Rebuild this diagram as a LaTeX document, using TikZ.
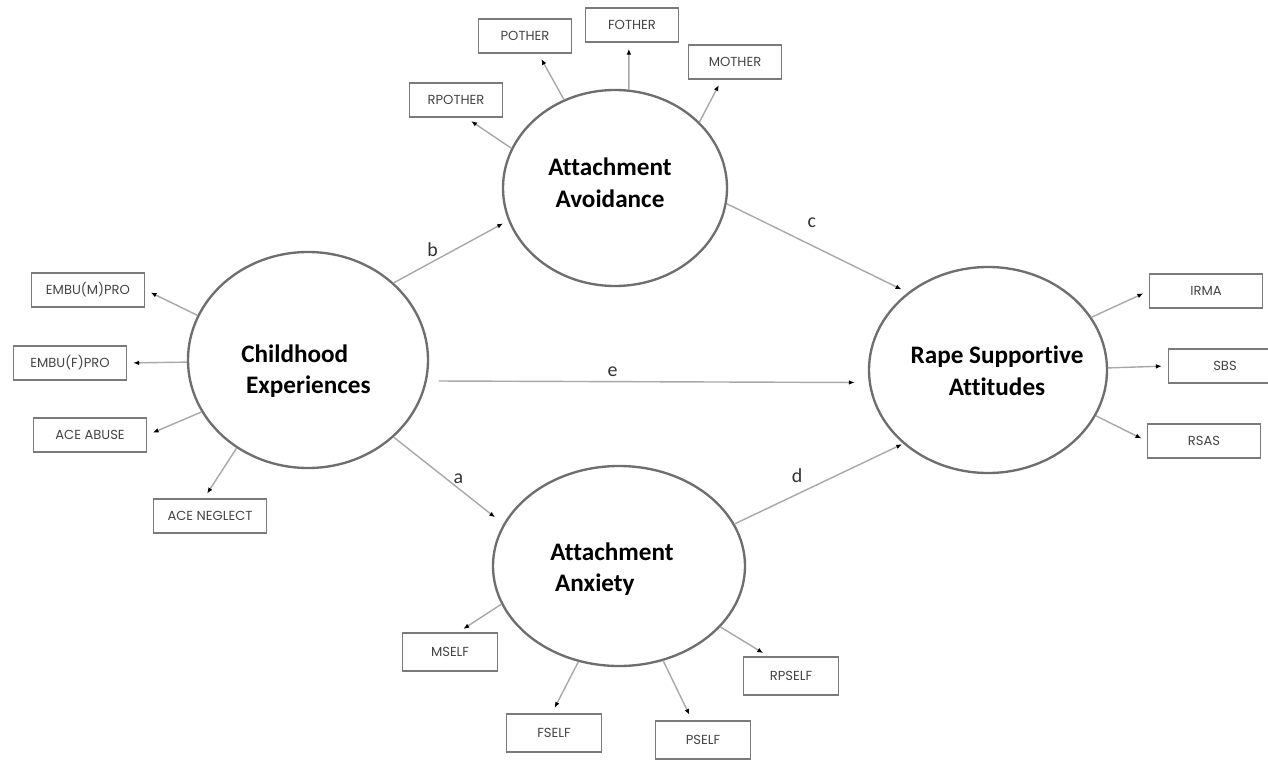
\documentclass[tikz,border=0pt]{standalone}
\usepackage{fontspec}
\setmainfont[Ligatures=NoCommon]{Carlito}
\newfontfamily\boxfont{Poppins}
\usetikzlibrary{shapes.geometric,arrows.meta}
\definecolor{rimgray}{HTML}{6E6E6E}
\definecolor{framegray}{HTML}{7A7A7A}
\definecolor{linegray}{HTML}{A8A8A8}
\definecolor{boxtext}{HTML}{444444}

\begin{document}
\begin{tikzpicture}[x=0.03cm, y=-0.03cm,
    factor/.style={ellipse, draw=rimgray, line width=2pt, inner sep=0pt},
    factortext/.style={inner sep=0pt, font=\fontsize{21.5}{27}\selectfont\bfseries},
    item/.style={rectangle, draw=framegray, line width=1.5pt, minimum width=3.39cm, minimum height=1cm, inner sep=0pt, text=boxtext, font=\boxfont\fontsize{11.2}{13}\selectfont},
    load/.style={draw=linegray, line width=1.2pt, -{Latex[length=5pt,width=4pt,color=black]}, shorten >=5pt},
    coef/.style={font=\fontsize{17}{20}\selectfont, text=black!80}]
    \useasboundingbox (0,0) rectangle (1268,760);

    % latent variables
    \node[factor, minimum width=7.2cm, minimum height=6.48cm] (ce) at (308,360) {};
    \node[factor, minimum width=6.72cm, minimum height=5.88cm] (av) at (615,188) {};
    \node[factor, minimum width=7.56cm, minimum height=6cm] (ax) at (619,566) {};
    \node[factor, minimum width=7.14cm, minimum height=6.18cm] (ra) at (988,370) {};
    \node[factortext, align=left] (cetext) at (306,371) {Childhood\\\hspace{4pt}Experiences};
    \node[factortext, align=center] (avtext) at (610,183) {Attachment\\Avoidance};
    \node[factortext, align=left] (axtext) at (612,569) {Attachment\\\hspace{4pt}Anxiety};
    \node[factortext, align=center] (ratext) at (997,371) {Rape Supportive\\Attitudes};

    % indicators
    \node[item] (em) at (88,290) {EMBU(M)PRO};
    \node[item] (ef) at (70,363) {EMBU(F)PRO};
    \node[item] (aa) at (90,435) {ACE ABUSE};
    \node[item] (an) at (210,516) {ACE NEGLECT};
    \node[item, minimum width=2.79cm, minimum height=1.02cm] (rp) at (456,100) {RPOTHER};
    \node[item, minimum width=2.79cm, minimum height=1.02cm] (po) at (525,36) {POTHER};
    \node[item, minimum width=2.79cm, minimum height=1.02cm] (fo) at (632,25) {FOTHER};
    \node[item, minimum width=2.79cm, minimum height=1.02cm] (mo) at (735,62) {MOTHER};
    \node[item, minimum width=2.85cm, minimum height=1.14cm] (ms) at (450,652) {MSELF};
    \node[item, minimum width=2.85cm, minimum height=1.14cm] (fs) at (554,733) {FSELF};
    \node[item, minimum width=2.85cm, minimum height=1.14cm] (ps) at (703,740) {PSELF};
    \node[item, minimum width=2.85cm, minimum height=1.14cm] (rs) at (791,676) {RPSELF};
    \node[item] (ir) at (1206,291) {IRMA};
    \node[item] (sb) at (1225,366) {SBS};
    \node[item] (rt) at (1204,441) {RSAS};

    % loadings
    \draw[load] (ce.158) -- (em.east);
    \draw[load] (ce.181) -- (ef.east);
    \draw[load] (ce.206) -- (aa.east);
    \draw[load] (ce.231) -- (an.109);
    \draw[load] (av.159) -- (rp.-60);
    \draw[load] (av.120) -- (po.-53);
    \draw[load] (av.82) -- (fo.-100);
    \draw[load] (av.38) -- (mo.-127);
    \draw[load] (ax.198) -- (ms.67);
    \draw[load] (ax.247) -- (fs.96);
    \draw[load] (ax.-65) -- (ps.119);
    \draw[load] (ax.-31) -- (rs.139);
    \draw[load] (ra.27) -- (ir.west);
    \draw[load] (ra.1) -- (sb.west);
    \draw[load] (ra.-23) -- (rt.west);

    % structural paths
    \draw[load] (ce.42) -- (av.197) node[coef, pos=.34, above] {b};
    \draw[load, shorten >=6pt] (av.-8) -- (ra.136) node[coef, pos=.47, above=11pt] {c};
    \draw[load, shorten <=10pt, shorten >=12pt] (ce.-10) -- (ra.186) node[coef, pos=.42, above] {e};
    \draw[load, shorten >=9pt] (ce.-42) -- (ax.160) node[coef, pos=.59, above] {a};
    \draw[load, shorten >=1pt] (ax.20) -- (ra.221) node[coef, pos=.37, above=6pt] {d};
\end{tikzpicture}
\end{document}
